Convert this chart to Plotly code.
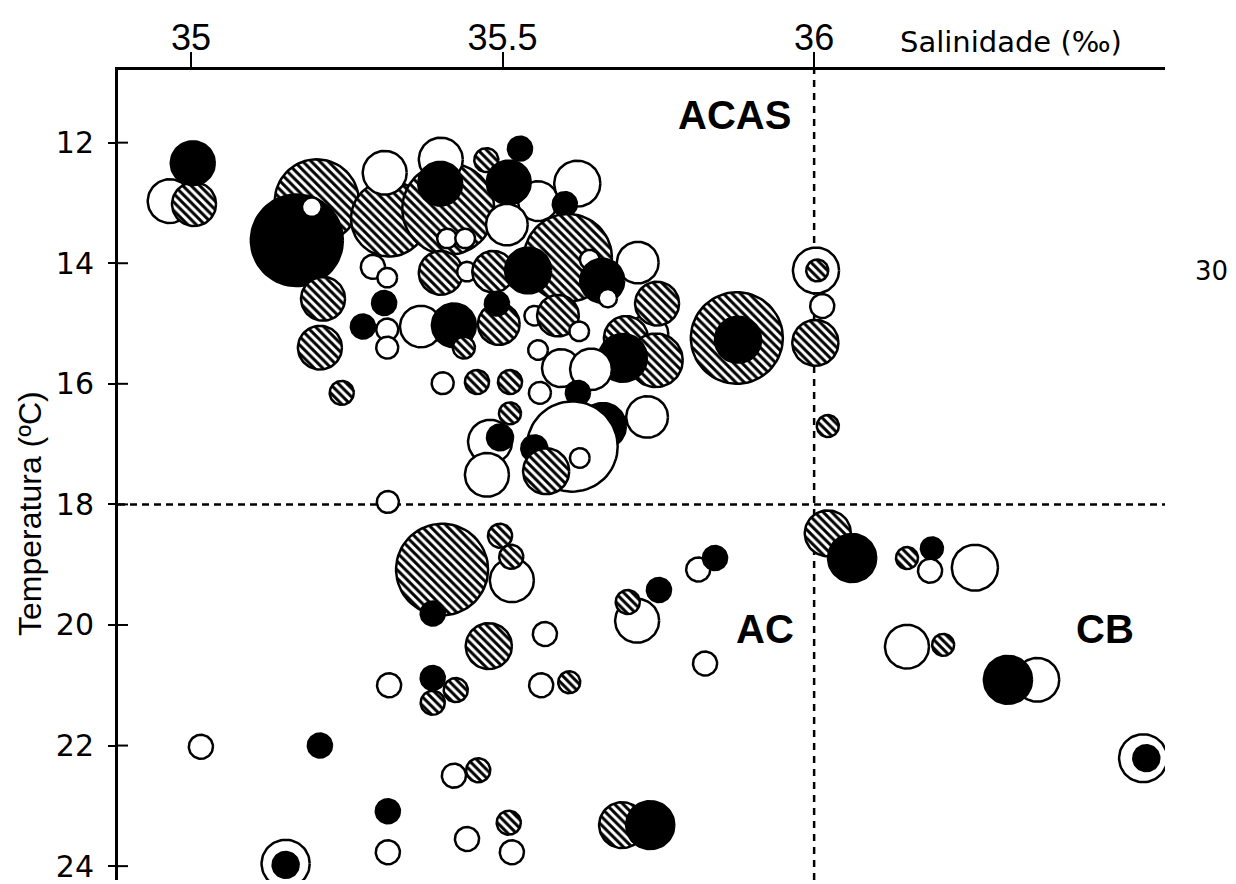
import numpy as np
import plotly.graph_objects as go

# ---------------- data ----------------
# salinity (‰), temperature (°C), relative abundance (bubble area), sample class
salinity = [
    34.966, 35.005, 35.003,
    35.202, 35.318, 35.413, 35.170, 35.194, 35.311, 35.401, 35.400, 35.474, 35.528,
    35.557, 35.510, 35.507, 35.620, 35.600, 35.411, 35.440, 35.292, 35.315,
    35.605, 35.401, 35.443, 35.485, 35.541, 35.640, 35.717, 35.660, 35.669,
    35.212, 35.207, 35.242, 35.310, 35.276, 35.315, 35.315, 35.369, 35.422, 35.438,
    35.494, 35.491, 35.551, 35.589, 35.623, 35.734, 35.748, 35.698, 35.746, 35.693,
    35.557, 35.594, 35.642, 35.621, 35.560, 35.404, 35.459, 35.512, 35.512,
    35.732, 35.661, 35.612, 35.551, 35.570, 35.624, 35.480, 35.496, 35.475,
    35.876, 35.878, 36.003, 36.005, 36.013, 36.002, 36.022,
    35.316, 35.403, 35.388, 35.496, 35.515, 35.514, 35.478, 35.568,
    35.318, 35.388, 35.425, 35.388, 35.562, 35.607,
    35.716, 35.701, 35.751, 35.814, 35.841, 35.825,
    35.016, 35.207, 35.422, 35.461, 35.316, 35.316, 35.152, 35.152,
    35.443, 35.515, 35.510, 35.692, 35.737,
    36.022, 36.061, 36.149, 36.189, 36.186, 36.258, 36.149, 36.207,
    36.358, 36.311, 36.528, 36.533,
]
temperature = [
    12.97, 13.02, 12.34,
    12.97, 13.26, 13.10, 13.62, 13.07, 12.50, 12.28, 12.68, 12.29, 12.10,
    12.97, 12.66, 13.36, 12.68, 13.02, 13.59, 13.59, 14.06, 14.24,
    13.91, 14.16, 14.14, 14.14, 14.12, 13.94, 13.99, 14.29, 14.58,
    14.59, 15.40, 16.15, 14.66, 15.05, 15.10, 15.40, 15.05, 15.03, 15.40,
    15.01, 14.67, 14.87, 14.87, 15.13, 15.18, 14.67, 15.24, 15.61, 15.57,
    15.44, 15.74, 15.76, 16.15, 16.15, 15.99, 15.97, 15.97, 16.49,
    16.55, 16.70, 17.04, 17.07, 17.45, 17.23, 16.96, 16.89, 17.51,
    15.24, 15.27, 14.12, 14.12, 14.71, 15.32, 16.70,
    17.96, 19.08, 19.81, 18.52, 19.26, 18.87, 20.35, 20.15,
    21.00, 20.88, 21.08, 21.29, 21.00, 20.95,
    19.93, 19.62, 19.42, 19.08, 18.89, 20.64,
    22.02, 22.00, 22.50, 22.41, 23.09, 23.77, 23.96, 23.98,
    23.55, 23.77, 23.28, 23.32, 23.32,
    18.48, 18.89, 18.89, 18.73, 19.10, 19.05, 20.36, 20.33,
    20.91, 20.91, 22.21, 22.21,
]
abundance = [
    4, 4, 4,
    14.6, 12, 17.5, 17.5, 0.8, 4, 4, 4, 1.2, 1.2,
    3.3, 4, 3.6, 4.4, 1.2, 0.8, 0.8, 1.2, 0.8,
    16, 4, 0.8, 3.6, 4.4, 0.8, 3.6, 4, 0.7,
    4, 4, 1.2, 1.2, 1.2, 1, 1, 3.6, 4, 1,
    3.6, 1.2, 0.8, 3.6, 0.8, 3.3, 4, 4, 6, 4.8,
    0.8, 3, 3.6, 1.2, 1, 1, 1.2, 1.2, 1,
    3.6, 4.4, 17, 1.4, 4.4, 0.8, 4, 1.4, 4,
    17.5, 4.4, 4.4, 1, 1.2, 4.4, 1,
    1, 17.5, 1.2, 1.2, 4, 1.2, 4.4, 1.2,
    1.2, 1.2, 1.2, 1.2, 1.2, 1,
    4, 1.2, 1.2, 1.2, 1.2, 1.2,
    1.2, 1.2, 1.2, 1.2, 1.2, 1.2, 4.8, 1.4,
    1.2, 1.2, 1.2, 4.4, 4.8,
    4.4, 4.8, 1, 1, 1.2, 4.4, 4, 1,
    4, 4.8, 4.8, 1.4,
]
kind = [
    "open", "hatch", "solid",
    "hatch", "hatch", "hatch", "solid", "open", "open", "open", "solid", "hatch", "solid",
    "open", "solid", "open", "open", "solid", "open", "open", "open", "open",
    "hatch", "hatch", "open", "hatch", "solid", "open", "open", "solid", "open",
    "hatch", "hatch", "hatch", "solid", "solid", "open", "open", "open", "solid", "hatch",
    "hatch", "solid", "open", "hatch", "open", "open", "hatch", "hatch", "hatch", "solid",
    "open", "open", "open", "solid", "open", "open", "hatch", "hatch", "hatch",
    "open", "solid", "open", "solid", "hatch", "open", "open", "solid", "open",
    "hatch", "solid", "open", "hatch", "open", "hatch", "hatch",
    "open", "hatch", "solid", "hatch", "open", "hatch", "hatch", "open",
    "open", "solid", "hatch", "hatch", "open", "hatch",
    "open", "hatch", "solid", "open", "solid", "open",
    "open", "solid", "open", "hatch", "solid", "open", "open", "solid",
    "open", "open", "hatch", "hatch", "solid",
    "hatch", "solid", "hatch", "solid", "open", "open", "open", "hatch",
    "open", "solid", "open", "solid",
]

x_ticks = [35, 35.5, 36]
x_ticktext = ["35", "35.5", "36"]
y_ticks = [12, 14, 16, 18, 20, 22, 24]
water_masses = ["ACAS", "AC", "CB"]
mass_sal = [35.873, 35.921, 36.467]
mass_temp = [11.54, 20.07, 20.07]

# ---------------- layout / style ----------------
# the page body adds an 8px offset, so the figure is 8px smaller than the window
W, H = 1228, 876
ML, MR, MT, MB = 110, 71, 62, 0
XR = [34.883, 36.563]
YR = [24.23, 10.795]
PW = W - ML - MR
px_x = PW / (XR[1] - XR[0])
px_y = (H - MT - MB) / (YR[0] - YR[1])
R_UNIT = 11.0  # pixel radius of an abundance of 1

theta = np.linspace(0, 2 * np.pi, 72)
fig = go.Figure()
for s, t, a, k in zip(salinity, temperature, abundance, kind):
    r = R_UNIT * np.sqrt(a)
    xs = s + r * np.cos(theta) / px_x
    ys = t + r * np.sin(theta) / px_y
    tr = dict(x=xs, y=ys, mode="lines", fill="toself",
              line=dict(color="black", width=2.5),
              hoverinfo="skip", showlegend=False)
    if k == "open":
        tr["fillcolor"] = "white"
    elif k == "solid":
        tr["fillcolor"] = "black"
    else:
        tr["fillcolor"] = "white"
        tr["fillpattern"] = dict(shape="\\", fgcolor="black", bgcolor="white",
                                 size=6, solidity=0.5, fillmode="replace")
    fig.add_trace(go.Scatter(**tr))

fig.add_shape(type="line", xref="paper", x0=0, x1=1, yref="y", y0=18, y1=18,
              line=dict(color="black", width=2.5, dash="7px,5px"), layer="below")
fig.add_shape(type="line", xref="x", x0=36, x1=36, yref="paper", y0=0, y1=1,
              line=dict(color="black", width=2.5, dash="7px,6px"), layer="below")
# inner half of the y ticks (ticks cross the axis line)
for yt in y_ticks:
    fig.add_shape(type="line", xref="paper", x0=0, x1=10 / PW, yref="y", y0=yt, y1=yt,
                  line=dict(color="black", width=2), layer="above")

for name, s, t in zip(water_masses, mass_sal, mass_temp):
    fig.add_annotation(x=s, y=t, xref="x", yref="y", text=f"<b>{name}</b>",
                       showarrow=False, xanchor="center", yanchor="middle",
                       font=dict(family="Liberation Sans, Arial", size=40, color="black"))

fig.add_annotation(x=0.853, y=1.034, xref="paper", yref="paper",
                   text="Salinidade (‰)", showarrow=False,
                   xanchor="center", yanchor="middle",
                   font=dict(family="DejaVu Sans", size=29, color="black"))
fig.add_annotation(x=-0.084, y=0.452, xref="paper", yref="paper",
                   text="Temperatura (ºC)", textangle=-90, showarrow=False,
                   xanchor="center", yanchor="middle",
                   font=dict(family="Liberation Sans, Arial", size=32, color="black"))
fig.add_annotation(x=1.044, y=0.752, xref="paper", yref="paper",
                   text="30", showarrow=False, xanchor="center", yanchor="middle",
                   font=dict(family="DejaVu Sans", size=26, color="black"))

fig.update_layout(
    width=W, height=H,
    margin=dict(l=ML, r=MR, t=MT, b=MB, pad=0),
    paper_bgcolor="white", plot_bgcolor="white",
    xaxis=dict(range=XR, side="top", tickvals=x_ticks, ticktext=x_ticktext,
               ticks="outside", ticklen=15, tickwidth=2, tickcolor="black",
               ticklabelstandoff=-12,
               showline=True, linewidth=3, linecolor="black",
               showgrid=False, zeroline=False,
               tickfont=dict(family="Liberation Sans, Arial", size=36, color="black")),
    yaxis=dict(range=YR, tickvals=y_ticks,
               ticks="outside", ticklen=7, tickwidth=2, tickcolor="black",
               ticklabelstandoff=8, ticklabeloverflow="allow",
               showline=True, linewidth=3, linecolor="black",
               showgrid=False, zeroline=False,
               tickfont=dict(family="DejaVu Sans", size=30, color="black")),
)

fig.write_html("out.html")
